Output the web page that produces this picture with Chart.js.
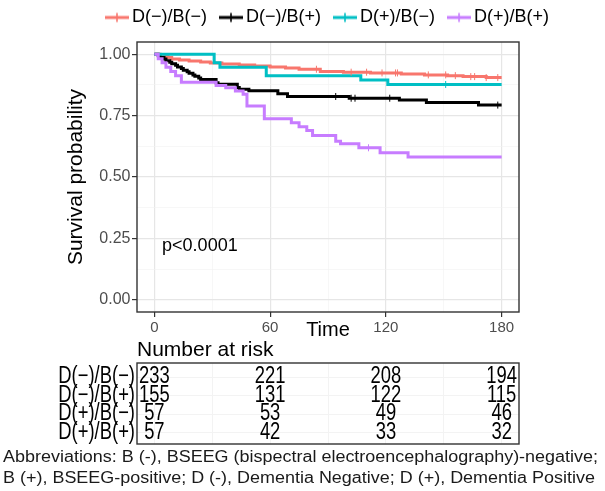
<!DOCTYPE html>
<html>
<head>
<meta charset="utf-8">
<script src="https://cdn.jsdelivr.net/npm/chart.js@4.4.1/dist/chart.umd.min.js"></script>
<style>
  html, body { margin: 0; padding: 0; background: #fff; }
  body { width: 605px; height: 491px; position: relative; overflow: hidden; font-family: 'Liberation Sans', Arial, sans-serif; }
  #km { position: absolute; left: 47px; top: 0; }
  #risk { position: absolute; left: 0; top: 335px; }
  #note { position: absolute; left: 3px; top: 446px; font-size: 16px; line-height: 21px; color: #1a1a1a; white-space: nowrap; transform-origin: 0 0; }
</style>
</head>
<body>
<canvas id="km" width="558" height="342"></canvas>
<canvas id="risk" width="605" height="110"></canvas>
<div id="note">Abbreviations: B (-), BSEEG (bispectral electroencephalography)-negative;<br>B (+), BSEEG-positive; D (-), Dementia Negative; D (+), Dementia Positive</div>
<script>
const groups = ['D(−)/B(−)', 'D(−)/B(+)', 'D(+)/B(−)', 'D(+)/B(+)'];
const colors = ['#F8766D', '#000000', '#00BFC4', '#C77CFF'];

// Kaplan-Meier steps (time, survival)
const timeNegNeg = [0, 3, 5, 7, 9, 13, 18, 24, 29, 35, 44, 52, 60, 68, 75, 86, 98, 112, 128, 140, 152, 160, 172, 180];
const survNegNeg = [1, 0.996, 0.991, 0.987, 0.981, 0.977, 0.973, 0.969, 0.964, 0.960, 0.956, 0.952, 0.948, 0.944, 0.939, 0.930, 0.927, 0.924, 0.920, 0.916, 0.913, 0.909, 0.905, 0.905];
const censorNegNeg = [84, 102, 110, 118, 125, 126, 142, 151, 156, 164, 166, 172, 178];

const timeNegPos = [0, 2, 3, 5, 6, 8, 9, 11, 12, 14, 15, 17, 18, 20, 21, 23, 24, 32, 33, 43, 44, 49, 64, 69, 101, 127, 141, 168, 180];
const survNegPos = [1, 0.994, 0.987, 0.981, 0.974, 0.968, 0.961, 0.955, 0.948, 0.942, 0.935, 0.929, 0.923, 0.916, 0.910, 0.903, 0.897, 0.884, 0.878, 0.865, 0.858, 0.851, 0.839, 0.828, 0.821, 0.814, 0.804, 0.793, 0.793];
const censorNegPos = [94, 102, 104, 122, 178];

const timePosNeg = [0, 31, 34, 58, 107, 121, 180];
const survPosNeg = [1, 0.965, 0.947, 0.912, 0.895, 0.877, 0.877];
const censorPosNeg = [151];

const timePosPos = [0, 2, 4, 6, 8.5, 11, 14, 32, 37, 42, 46, 48, 57, 71, 75, 79, 82, 94, 96.5, 106, 117, 131.5, 180];
const survPosPos = [1, 0.982, 0.965, 0.947, 0.930, 0.912, 0.886, 0.873, 0.864, 0.850, 0.837, 0.789, 0.737, 0.721, 0.705, 0.689, 0.669, 0.646, 0.635, 0.619, 0.599, 0.581, 0.581];
const censorPosPos = [111];

const xGrid = [0, 30, 60, 90, 120, 150, 180];
const xMajor = [0, 60, 120, 180];
const xLabels = ['0', '60', '120', '180'];
const yGrid = [0, 0.125, 0.25, 0.375, 0.5, 0.625, 0.75, 0.875, 1];
const yMajor = [0, 0.25, 0.5, 0.75, 1];
const yLabels = ['0.00', '0.25', '0.50', '0.75', '1.00'];

const pLabel = 'p<0.0001';

// number at risk table
const riskTimes = [0, 60, 120, 180];
const riskNegNeg = [233, 221, 208, 194];
const riskNegPos = [155, 131, 122, 115];
const riskPosNeg = [57, 53, 49, 46];
const riskPosPos = [57, 42, 33, 32];

const fontFamily = "'Liberation Sans', Arial, sans-serif";
Chart.defaults.font.family = fontFamily;

const curves = [
  { t: timeNegNeg, s: survNegNeg, c: censorNegNeg },
  { t: timeNegPos, s: survNegPos, c: censorNegPos },
  { t: timePosNeg, s: survPosNeg, c: censorPosNeg },
  { t: timePosPos, s: survPosPos, c: censorPosPos }
];

// survival level of a step curve at time t (for the censor ticks)
function survAt(times, surv, t) {
  let s = surv[0];
  for (let i = 0; i < times.length; i++) {
    if (times[i] <= t) s = surv[i];
  }
  return s;
}

function legendSymbol(color) {
  const c = document.createElement('canvas');
  c.width = 24;
  c.height = 12;
  const g = c.getContext('2d');
  g.strokeStyle = color;
  g.lineWidth = 3;
  g.beginPath(); g.moveTo(0, 6); g.lineTo(24, 6); g.stroke();
  g.lineWidth = 1.6;
  g.beginPath(); g.moveTo(12, 1.5); g.lineTo(12, 10.5); g.stroke();
  return c;
}

const datasets = [];
curves.forEach((cv, i) => {
  datasets.push({
    label: groups[i],
    data: cv.t.map((t, k) => ({ x: t, y: cv.s[k] })),
    borderColor: colors[i],
    backgroundColor: colors[i],
    borderWidth: 3,
    stepped: true,
    pointRadius: 0,
    fill: false,
    order: 4 - i
  });
});
curves.forEach((cv, i) => {
  datasets.push({
    label: groups[i] + ' censored',
    data: cv.c.map(t => ({ x: t, y: survAt(cv.t, cv.s, t) })),
    showLine: false,
    pointStyle: 'line',
    pointRotation: 90,
    pointRadius: 3.5,
    pointBorderColor: colors[i],
    pointBorderWidth: 1,
    order: 0
  });
});

const isMajorX = ctx => ctx.tick && xMajor.includes(ctx.tick.value);
const isMajorY = ctx => ctx.tick && yMajor.includes(ctx.tick.value);

const kmExtras = {
  id: 'kmExtras',
  afterDatasetsDraw(chart) {
    const { ctx, chartArea: a, scales: { x, y } } = chart;
    ctx.save();
    ctx.fillStyle = '#000';
    ctx.font = '18px ' + fontFamily;
    ctx.textAlign = 'left';
    ctx.textBaseline = 'middle';
    ctx.fillText(pLabel, x.getPixelForValue(4), y.getPixelForValue(0.22));
    ctx.strokeStyle = '#333333';
    ctx.lineWidth = 1.4;
    ctx.strokeRect(a.left, a.top, a.right - a.left, a.bottom - a.top);
    ctx.restore();
  }
};

new Chart(document.getElementById('km'), {
  type: 'line',
  data: { datasets: datasets },
  options: {
    responsive: false,
    animation: false,
    events: [],
    layout: { padding: { top: -9.5, left: 8 } },
    plugins: {
      tooltip: { enabled: false },
      legend: {
        position: 'top',
        labels: {
          usePointStyle: true,
          pointStyleWidth: 12,
          padding: 18,
          color: '#000',
          font: { size: 18 },
          generateLabels(chart) {
            return Chart.defaults.plugins.legend.labels.generateLabels(chart)
              .filter(it => it.datasetIndex < groups.length)
              .sort((a, b) => a.datasetIndex - b.datasetIndex)
              .map(it => Object.assign(it, { pointStyle: legendSymbol(colors[it.datasetIndex]) }));
          }
        }
      }
    },
    scales: {
      x: {
        type: 'linear',
        min: -9,
        max: 189,
        afterBuildTicks: s => { s.ticks = xGrid.map(v => ({ value: v })); },
        afterFit: s => { s.height = 30; },
        ticks: {
          autoSkip: false,
          maxRotation: 0,
          padding: 2,
          color: '#4d4d4d',
          font: { size: 15 },
          callback: v => { const k = xMajor.indexOf(v); return k >= 0 ? xLabels[k] : ''; }
        },
        grid: {
          color: c => isMajorX(c) ? '#e6e6e6' : '#f2f2f2',
          lineWidth: c => isMajorX(c) ? 1.2 : 0.6,
          tickColor: c => isMajorX(c) ? '#333333' : 'rgba(0,0,0,0)',
          tickLength: 5
        },
        border: { display: false },
        title: { display: true, text: 'Time', color: '#000', font: { size: 20 }, padding: { top: 0, bottom: 0 } }
      },
      y: {
        type: 'linear',
        min: -0.05,
        max: 1.05,
        afterBuildTicks: s => { s.ticks = yGrid.map(v => ({ value: v })); },
        afterFit: s => { s.width = 82; },
        ticks: {
          autoSkip: false,
          padding: 1.5,
          color: '#4d4d4d',
          font: { size: 16 },
          callback: v => { const k = yMajor.indexOf(v); return k >= 0 ? yLabels[k] : ''; }
        },
        grid: {
          color: c => isMajorY(c) ? '#e6e6e6' : '#f2f2f2',
          lineWidth: c => isMajorY(c) ? 1.2 : 0.6,
          tickColor: c => isMajorY(c) ? '#333333' : 'rgba(0,0,0,0)',
          tickLength: 5
        },
        border: { display: false },
        title: { display: true, text: 'Survival probability', color: '#000', font: { size: 21 }, padding: { top: 9, bottom: 0 } }
      },
      // spacers so the panel sits where the picture has it
      xTop: {
        type: 'linear', position: 'top',
        ticks: { display: false }, grid: { display: false }, border: { display: false },
        afterFit: s => { s.height = 5.5; }
      },
      yRight: {
        type: 'linear', position: 'right',
        ticks: { display: false }, grid: { display: false }, border: { display: false },
        afterFit: s => { s.width = 86; }
      }
    }
  },
  plugins: [kmExtras]
});

// risk table
const riskRows = [riskNegNeg, riskNegPos, riskPosNeg, riskPosPos];

function drawNarrow(ctx, text, x, y, align) {
  ctx.save();
  ctx.translate(x, y);
  ctx.scale(0.8, 1);
  ctx.textAlign = align;
  ctx.fillText(text, 0, 0);
  ctx.restore();
}

const riskText = {
  id: 'riskText',
  afterDatasetsDraw(chart) {
    const { ctx, chartArea: a, scales: { y } } = chart;
    ctx.save();
    ctx.fillStyle = '#000';
    ctx.font = '23px ' + fontFamily;
    ctx.textBaseline = 'middle';
    chart.data.datasets.forEach((ds, i) => {
      chart.getDatasetMeta(i).data.forEach((pt, j) => {
        drawNarrow(ctx, String(ds.data[j].n), pt.x, pt.y, 'center');
      });
      drawNarrow(ctx, groups[i], a.left - 2, y.getPixelForValue(i), 'right');
    });
    ctx.strokeStyle = '#333333';
    ctx.lineWidth = 1.4;
    ctx.strokeRect(a.left, a.top, a.right - a.left, a.bottom - a.top);
    ctx.restore();
  }
};

new Chart(document.getElementById('risk'), {
  type: 'scatter',
  data: {
    datasets: riskRows.map((vals, i) => ({
      label: groups[i],
      data: riskTimes.map((t, j) => ({ x: t, y: i, n: vals[j] })),
      pointRadius: 0
    }))
  },
  options: {
    responsive: false,
    animation: false,
    events: [],
    layout: { padding: { bottom: 1 } },
    plugins: { legend: { display: false }, tooltip: { enabled: false } },
    scales: {
      x: {
        type: 'linear', position: 'top', min: -9, max: 189,
        afterBuildTicks: s => { s.ticks = xGrid.map(v => ({ value: v })); },
        afterFit: s => { s.height = 28; },
        ticks: { display: false },
        grid: { color: '#f3f3f3', drawTicks: false },
        border: { display: false },
        title: { display: true, text: 'Number at risk', align: 'start', color: '#000', font: { size: 21 }, padding: { top: 3, bottom: 0 } }
      },
      y: {
        type: 'linear', reverse: true, min: -0.76, max: 3.62,
        afterBuildTicks: s => { s.ticks = groups.map((g, i) => ({ value: i })); },
        afterFit: s => { s.width = 137; },
        ticks: { display: false },
        grid: { color: '#f3f3f3', drawTicks: false },
        border: { display: false }
      },
      yRight: {
        type: 'linear', position: 'right',
        ticks: { display: false }, grid: { display: false }, border: { display: false },
        afterFit: s => { s.width = 86; }
      }
    }
  },
  plugins: [riskText]
});

// the footnote in the picture is drawn a little wide; stretch it to the same width
const note = document.getElementById('note');
note.style.transform = 'scaleX(' + (595 / note.getBoundingClientRect().width) + ')';
</script>
</body>
</html>
